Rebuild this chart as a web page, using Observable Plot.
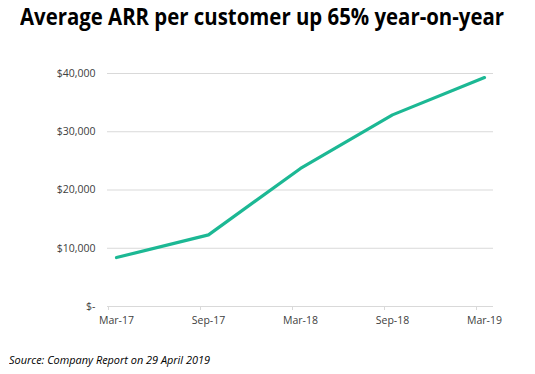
<!DOCTYPE html>
<html>
<head>
<meta charset="utf-8">
<script src="https://cdn.jsdelivr.net/npm/d3@7"></script>
<script src="https://cdn.jsdelivr.net/npm/@observablehq/plot@0.6"></script>
<style>
  html, body { margin: 0; padding: 0; background: #fff; }
  body { width: 535px; height: 374px; overflow: hidden; position: relative; font-family: "Open Sans", sans-serif; }
  #title { position: absolute; left: 20px; top: 0px; font-weight: 700; font-size: 23px; color: #000; white-space: nowrap; transform-origin: 0 0; line-height: 32px; }
  #chart { position: absolute; left: 0; top: 40px; }
  #caption { position: absolute; left: 9px; top: 353px; font-style: italic; font-size: 10.5px; color: #000; white-space: nowrap; transform-origin: 0 0; }
</style>
</head>
<body>
<div id="title">Average ARR per customer up 65% year-on-year</div>
<div id="chart"></div>
<div id="caption">Source: Company Report on 29 April 2019</div>
<script>
const periods = ["Mar-17", "Sep-17", "Mar-18", "Sep-18", "Mar-19"];
const arr = [8400, 12300, 23700, 32900, 39300];
const yTicks = [0, 10000, 20000, 30000, 40000];

const data = periods.map((p, i) => ({period: p, value: arr[i]}));
const fmt = v => v === 0 ? "$-" : "$" + d3.format(",")(v);

const plot = Plot.plot({
  width: 535,
  height: 300,
  marginLeft: 107,
  marginRight: 42,
  marginTop: 33,
  marginBottom: 34,
  style: {fontFamily: "'Open Sans', sans-serif", fontSize: "10.5px", color: "#404040", background: "#fff"},
  x: {type: "point", domain: periods, padding: 0.08, label: null},
  y: {domain: [0, 40000], label: null},
  marks: [
    Plot.ruleY(yTicks, {stroke: "#d9d9d9", strokeWidth: 1}),
    Plot.axisY(yTicks, {tickSize: 0, tickPadding: 12, tickFormat: fmt, fill: "#404040", fontSize: 10.5, label: null}),
    Plot.axisX({tickSize: 4, tickPadding: 0, dx: -8, tickFormat: () => "", stroke: "#d9d9d9", label: null}),
    Plot.axisX({tickSize: 0, tickPadding: 10, fill: "#404040", fontSize: 10.5, label: null}),
    Plot.line(data, {x: "period", y: "value", stroke: "#1cb894", strokeWidth: 3.2, strokeLinecap: "round", strokeLinejoin: "round"})
  ]
});
document.getElementById("chart").appendChild(plot);

// fit the title and caption to the reference widths
const t = document.getElementById("title");
t.style.transform = `scaleX(${484 / t.getBoundingClientRect().width})`;
const c = document.getElementById("caption");
c.style.transform = `scaleX(${201 / c.getBoundingClientRect().width})`;
</script>
</body>
</html>
